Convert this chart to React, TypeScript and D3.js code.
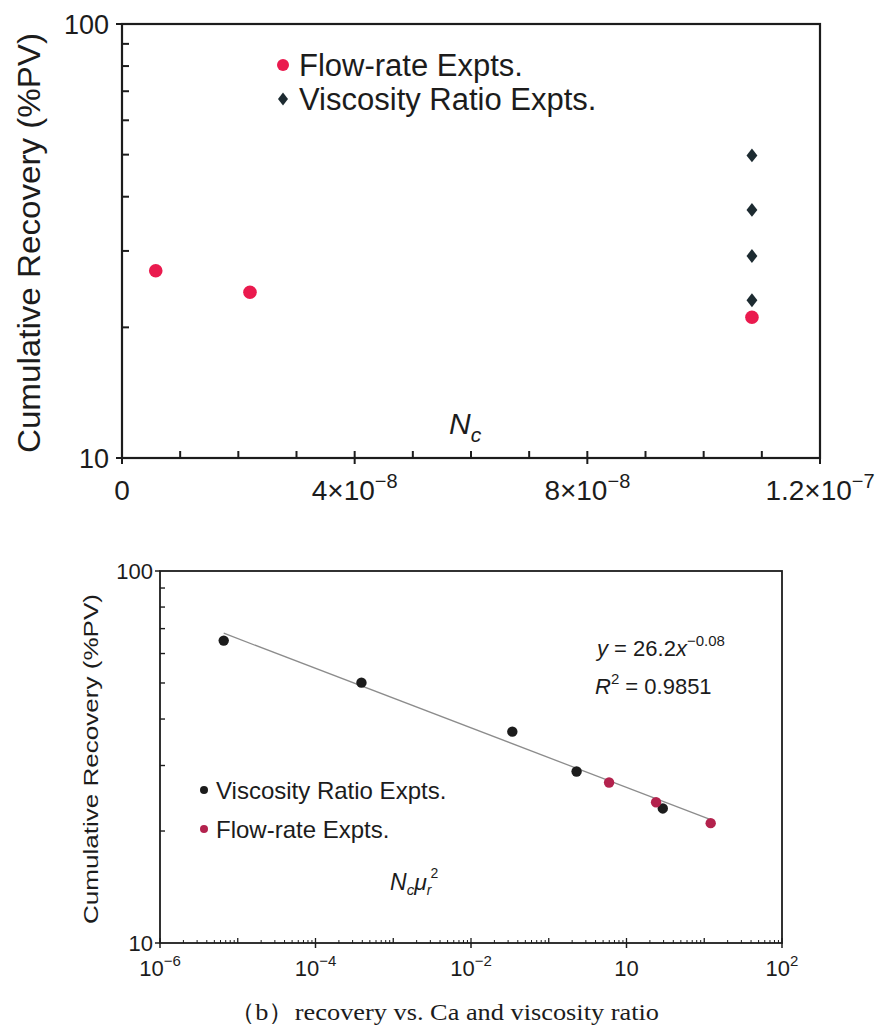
import React from "react";
import * as d3 from "d3";

// ---------- Panel data ----------
// Upper panel: cumulative recovery vs capillary number N_c (linear x, log y)
const topFlowNc = [5.8e-9, 2.2e-8, 1.083e-7];
const topFlowRec = [27.0, 24.1, 21.1];
const topViscNc = [1.083e-7, 1.083e-7, 1.083e-7, 1.083e-7];
const topViscRec = [49.8, 37.3, 29.2, 23.1];
const topXTicks = [0, 4e-8, 8e-8, 1.2e-7];
const topXMinorTicks = [1e-8, 2e-8, 3e-8, 5e-8, 6e-8, 7e-8, 9e-8, 1e-7, 1.1e-7];
const topXTickBase = ["0", "4×10", "8×10", "1.2×10"];
const topXTickExp = ["", "−8", "−8", "−7"];

// Lower panel: cumulative recovery vs N_c * mu_r^2 (log-log) with power-law fit
const botViscX = [6.6e-6, 3.9e-4, 0.034, 0.228, 2.93];
const botViscY = [65.0, 50.1, 37.0, 28.9, 23.0];
const botFlowX = [0.597, 2.4, 12.1];
const botFlowY = [27.0, 23.9, 21.0];
const botXTicks = [1e-6, 1e-4, 1e-2, 1, 100];
const botXTickBase = ["10", "10", "10", "10", "10"];
const botXTickExp = ["−6", "−4", "−2", "", "2"];
const fitCoef = 26.2;
const fitExp = -0.08;
const fitR2 = "0.9851";

const yTicks = [10, 100];
const yMinor = [20, 30, 40, 50, 60, 70, 80, 90];

const SANS = "'Liberation Sans', Arial, Helvetica, sans-serif";
const SERIF = "'Liberation Serif', 'Times New Roman', serif";
const INK = "#1c1c1c";
const RED = "#ea1a4e";
const SLATE = "#1d2b31";
const CRIMSON = "#b3224d";

const top = { left: 122, right: 820, top: 24, bottom: 458 };
const bot = { left: 160, right: 782, top: 571, bottom: 943 };

export default function App() {
  // scales for upper panel
  const xT = d3.scaleLinear().domain([0, 1.2e-7]).range([top.left, top.right]);
  const yT = d3.scaleLog().domain([10, 100]).range([top.bottom, top.top]);

  // scales for lower panel
  const xB = d3.scaleLog().domain([1e-6, 100]).range([bot.left, bot.right]);
  const yB = d3.scaleLog().domain([10, 100]).range([bot.bottom, bot.top]);
  const decades = d3.range(-6, 3).map((e) => Math.pow(10, e));
  const xBMinor: number[] = [];
  for (let e = -6; e < 2; e++) for (let m = 2; m <= 9; m++) xBMinor.push(m * Math.pow(10, e));

  const diamondType = d3.symbolDiamond2 || d3.symbolDiamond;
  const diamond = d3.symbol(diamondType, 112)() as string;
  const diamondSmall = d3.symbol(diamondType, 100)() as string;

  const allX = botViscX.concat(botFlowX);
  const fitX = [d3.min(allX) as number, d3.max(allX) as number];
  const fitLine = d3
    .line<number>()
    .x((x) => xB(x))
    .y((x) => yB(fitCoef * Math.pow(x, fitExp)))(fitX) as string;

  return (
    <svg
      width={886}
      height={1029}
      style={{ position: "absolute", left: 0, top: 0, background: "#fff" }}
      fontFamily={SANS}
    >
      <rect x={0} y={0} width={886} height={1029} fill="#fff" />

      {/* ===== Upper panel ===== */}
      <g>
        {/* frame */}
        <rect
          x={top.left}
          y={top.top}
          width={top.right - top.left}
          height={top.bottom - top.top}
          fill="none"
          stroke={INK}
          strokeWidth={2.2}
        />
        {/* minor y ticks (inside) */}
        {yMinor.map((v) => (
          <line key={"tym" + v} x1={top.left} x2={top.left + 7} y1={yT(v)} y2={yT(v)} stroke={INK} strokeWidth={2} />
        ))}
        {yTicks.map((v) => (
          <line key={"tyM" + v} x1={top.left - 6} x2={top.left} y1={yT(v)} y2={yT(v)} stroke={INK} strokeWidth={2} />
        ))}
        {yTicks.map((v) => (
          <text key={"tyl" + v} x={top.left - 13} y={yT(v)} dy="0.36em" textAnchor="end" fontSize={27} fill={INK}>
            {v}
          </text>
        ))}
        {/* x ticks */}
        {topXMinorTicks.map((v) => (
          <line key={"txm" + v} x1={xT(v)} x2={xT(v)} y1={top.bottom} y2={top.bottom - 7} stroke={INK} strokeWidth={2} />
        ))}
        {topXTicks.map((v) => (
          <line key={"txM" + v} x1={xT(v)} x2={xT(v)} y1={top.bottom - 7} y2={top.bottom + 6} stroke={INK} strokeWidth={2} />
        ))}
        {topXTicks.map((v, i) => (
          <text key={"txl" + v} x={xT(v)} y={top.bottom + 42} textAnchor="middle" fontSize={28} fill={INK}>
            <tspan>{topXTickBase[i]}</tspan>
            {topXTickExp[i] && (
              <tspan dy={-12} fontSize={20}>
                {topXTickExp[i]}
              </tspan>
            )}
          </text>
        ))}
        {/* axis titles */}
        <text
          transform={`translate(${40},${(top.top + top.bottom) / 2 + 2}) rotate(-90)`}
          textAnchor="middle"
          fontSize={31}
          fill={INK}
          textLength={420}
          lengthAdjust="spacingAndGlyphs"
        >
          Cumulative Recovery (%PV)
        </text>
        <text x={449} y={434} fontSize={30} fontStyle="italic" fill={INK}>
          N<tspan dy={8} fontSize={21}>c</tspan>
        </text>
        {/* legend */}
        <circle cx={283} cy={65} r={6} fill={RED} />
        <text x={299} y={65} dy="0.36em" fontSize={31} fill={INK}>
          Flow-rate Expts.
        </text>
        <path d={diamondSmall} transform={`translate(283,99) scale(0.8,1.05)`} fill={SLATE} />
        <text x={299} y={99} dy="0.36em" fontSize={31} fill={INK}>
          Viscosity Ratio Expts.
        </text>
        {/* data */}
        {topViscNc.map((x, i) => (
          <path
            key={"tv" + i}
            d={diamond}
            transform={`translate(${xT(x)},${yT(topViscRec[i])}) scale(0.82,1.05)`}
            fill={SLATE}
          />
        ))}
        {topFlowNc.map((x, i) => (
          <circle key={"tf" + i} cx={xT(x)} cy={yT(topFlowRec[i])} r={6.8} fill={RED} />
        ))}
      </g>

      {/* ===== Lower panel ===== */}
      <g>
        <rect
          x={bot.left}
          y={bot.top}
          width={bot.right - bot.left}
          height={bot.bottom - bot.top}
          fill="none"
          stroke={INK}
          strokeWidth={1.8}
        />
        {yMinor.map((v) => (
          <line key={"bym" + v} x1={bot.left} x2={bot.left + 5} y1={yB(v)} y2={yB(v)} stroke={INK} strokeWidth={1.4} />
        ))}
        {yTicks.map((v) => (
          <line key={"byM" + v} x1={bot.left - 5} x2={bot.left} y1={yB(v)} y2={yB(v)} stroke={INK} strokeWidth={1.5} />
        ))}
        {yTicks.map((v) => (
          <text key={"byl" + v} x={bot.left - 7} y={yB(v)} dy="0.36em" textAnchor="end" fontSize={22} fill={INK}>
            {v}
          </text>
        ))}
        {xBMinor.map((v, i) => (
          <line key={"bxm" + i} x1={xB(v)} x2={xB(v)} y1={bot.bottom} y2={bot.bottom - 3} stroke={INK} strokeWidth={1} />
        ))}
        {decades.map((v, i) => (
          <line key={"bxd" + i} x1={xB(v)} x2={xB(v)} y1={bot.bottom} y2={bot.bottom - 5} stroke={INK} strokeWidth={1.3} />
        ))}
        {botXTicks.map((v) => (
          <line key={"bxM" + v} x1={xB(v)} x2={xB(v)} y1={bot.bottom} y2={bot.bottom + 5} stroke={INK} strokeWidth={1.5} />
        ))}
        {botXTicks.map((v, i) => (
          <text key={"bxl" + v} x={xB(v)} y={bot.bottom + 33} textAnchor="middle" fontSize={22} fill={INK}>
            <tspan>{botXTickBase[i]}</tspan>
            {botXTickExp[i] && (
              <tspan dy={-10} fontSize={15}>
                {botXTickExp[i]}
              </tspan>
            )}
          </text>
        ))}
        <text
          transform={`translate(${98},${(bot.top + bot.bottom) / 2 + 2}) rotate(-90)`}
          textAnchor="middle"
          fontSize={21}
          fill={INK}
          textLength={330}
          lengthAdjust="spacingAndGlyphs"
        >
          Cumulative Recovery (%PV)
        </text>
        <text x={390} y={890} fontSize={23} fontStyle="italic" fill={INK}>
          N<tspan dy={5} fontSize={15}>c</tspan>
          <tspan dy={-5}>μ</tspan>
          <tspan dy={5} fontSize={14}>r</tspan>
          <tspan dx={-1} dy={-17} fontSize={14} fontStyle="normal">2</tspan>
        </text>
        {/* fit annotation */}
        <text x={597} y={656} fontSize={22} fill={INK}>
          <tspan fontStyle="italic">y</tspan>
          <tspan> = {fitCoef}</tspan>
          <tspan fontStyle="italic">x</tspan>
          <tspan dy={-10} fontSize={15}>{"−" + Math.abs(fitExp).toFixed(2)}</tspan>
        </text>
        <text x={595} y={694} fontSize={22} fill={INK}>
          <tspan fontStyle="italic">R</tspan>
          <tspan dy={-10} fontSize={15}>2</tspan>
          <tspan dy={10}> = {fitR2}</tspan>
        </text>
        {/* legend */}
        <circle cx={204} cy={790} r={4} fill={INK} />
        <text x={216} y={790} dy="0.36em" fontSize={24} fill={INK}>
          Viscosity Ratio Expts.
        </text>
        <circle cx={204} cy={829} r={4} fill={CRIMSON} />
        <text x={216} y={829} dy="0.36em" fontSize={24} fill={INK}>
          Flow-rate Expts.
        </text>
        {/* fitted power law */}
        <path d={fitLine} fill="none" stroke="#8c8c8c" strokeWidth={1.3} />
        {/* data */}
        {botViscX.map((x, i) => (
          <circle key={"bv" + i} cx={xB(x)} cy={yB(botViscY[i])} r={5.2} fill={INK} />
        ))}
        {botFlowX.map((x, i) => (
          <circle key={"bf" + i} cx={xB(x)} cy={yB(botFlowY[i])} r={5.2} fill={CRIMSON} />
        ))}
        {/* caption */}
        <text
          x={444}
          y={1020}
          textAnchor="middle"
          fontSize={24}
          fontFamily={SERIF}
          fill={INK}
          textLength={430}
          lengthAdjust="spacingAndGlyphs"
        >
          （b）recovery vs. Ca and viscosity ratio
        </text>
      </g>
    </svg>
  );
}
